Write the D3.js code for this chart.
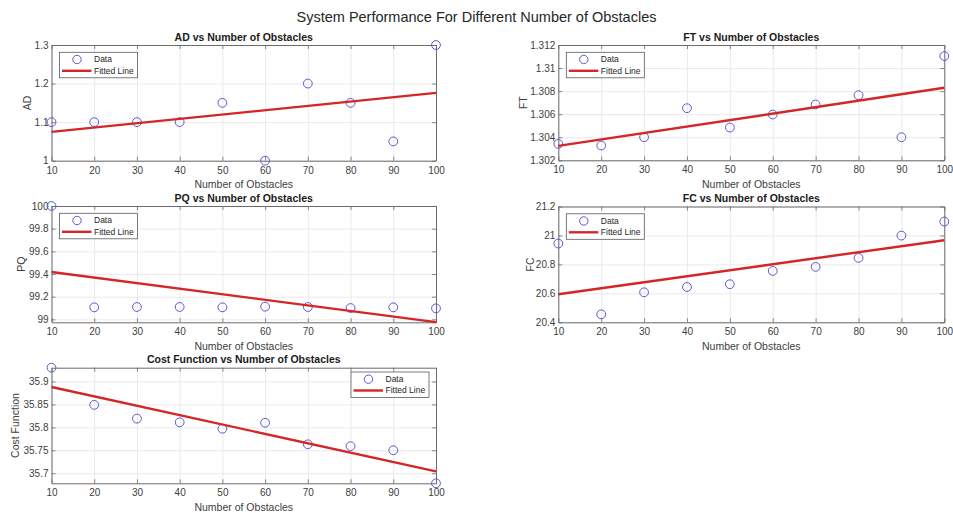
<!DOCTYPE html>
<html>
<head>
<meta charset="utf-8">
<script src="https://cdn.jsdelivr.net/npm/d3@7"></script>
<style>
  html, body { margin: 0; padding: 0; background: #fff; }
  svg { display: block; font-family: "Liberation Sans", Arial, Helvetica, sans-serif; }
</style>
</head>
<body>
<svg id="chart" width="953" height="513"></svg>
<script>
// ---------------- data ----------------
const obstacles = [10, 20, 30, 40, 50, 60, 70, 80, 90, 100];
const xTicks = [10, 20, 30, 40, 50, 60, 70, 80, 90, 100];
const fitX = [10, 100];

const adValues = [1.10, 1.10, 1.10, 1.10, 1.15, 1.00, 1.20, 1.15, 1.05, 1.30];
const adFit = [1.0746, 1.1760];
const adTicks = [1.0, 1.1, 1.2, 1.3];
const adTickLabels = ["1", "1.1", "1.2", "1.3"];
const adDomain = [1.0, 1.3];

const ftValues = [1.30342, 1.30328, 1.30400, 1.30652, 1.30484, 1.30597, 1.30684, 1.30765, 1.30400, 1.31104];
const ftFit = [1.30325, 1.30829];
const ftTicks = [1.302, 1.304, 1.306, 1.308, 1.310, 1.312];
const ftTickLabels = ["1.302", "1.304", "1.306", "1.308", "1.31", "1.312"];
const ftDomain = [1.302, 1.312];

const pqValues = [100.0, 99.106, 99.109, 99.109, 99.106, 99.112, 99.109, 99.100, 99.106, 99.097];
const pqFit = [99.418, 98.976];
const pqTicks = [99.0, 99.2, 99.4, 99.6, 99.8, 100.0];
const pqTickLabels = ["99", "99.2", "99.4", "99.6", "99.8", "100"];
const pqDomain = [98.974, 100.0];

const fcValues = [20.944, 20.455, 20.607, 20.644, 20.663, 20.755, 20.783, 20.845, 20.999, 21.096];
const fcFit = [20.594, 20.967];
const fcTicks = [20.4, 20.6, 20.8, 21.0, 21.2];
const fcTickLabels = ["20.4", "20.6", "20.8", "21", "21.2"];
const fcDomain = [20.4, 21.2];

const costValues = [35.930, 35.849, 35.819, 35.811, 35.797, 35.810, 35.763, 35.759, 35.750, 35.678];
const costFit = [35.888, 35.704];
const costTicks = [35.70, 35.75, 35.80, 35.85, 35.90];
const costTickLabels = ["35.7", "35.75", "35.8", "35.85", "35.9"];
const costDomain = [35.678, 35.930];

const mainTitle = "System Performance For Different Number of Obstacles";
const xLabel = "Number of Obstacles";
const legendLabels = ["Data", "Fitted Line"];

// ---------------- layout / style ----------------
const FRAME = "#6b6b6b";
const TEXT = "#404040";
const GRID = "#e4e4e4";
const MARK = "#5a5ad0";
const RED = "#d42626";

const panels = [
  { title: "AD vs Number of Obstacles", ylab: "AD", vals: adValues, fit: adFit, ticks: adTicks, labels: adTickLabels, domain: adDomain,
    box: { x0: 51.5, x1: 436, y0: 45, y1: 160.7 }, ylabX: 27, legend: "left" },
  { title: "FT vs Number of Obstacles", ylab: "FT", vals: ftValues, fit: ftFit, ticks: ftTicks, labels: ftTickLabels, domain: ftDomain,
    box: { x0: 558.3, x1: 944.3, y0: 45, y1: 160.3 }, ylabX: 523, legend: "left" },
  { title: "PQ vs Number of Obstacles", ylab: "PQ", vals: pqValues, fit: pqFit, ticks: pqTicks, labels: pqTickLabels, domain: pqDomain,
    box: { x0: 51.5, x1: 436, y0: 206, y1: 322.3 }, ylabX: 21.5, legend: "left" },
  { title: "FC vs Number of Obstacles", ylab: "FC", vals: fcValues, fit: fcFit, ticks: fcTicks, labels: fcTickLabels, domain: fcDomain,
    box: { x0: 558.3, x1: 944.3, y0: 206.5, y1: 322.3 }, ylabX: 530, legend: "left" },
  { title: "Cost Function vs Number of Obstacles", ylab: "Cost Function", vals: costValues, fit: costFit, ticks: costTicks, labels: costTickLabels, domain: costDomain,
    box: { x0: 51.5, x1: 436, y0: 367.7, y1: 483.3 }, ylabX: 15, legend: "right" }
];

const svg = d3.select("#chart");

svg.append("text")
  .attr("x", 476.5).attr("y", 22)
  .attr("text-anchor", "middle")
  .attr("font-size", 14.5)
  .attr("fill", "#262626")
  .text(mainTitle);

panels.forEach(p => {
  const b = p.box;
  const w = b.x1 - b.x0, h = b.y1 - b.y0;
  const x = d3.scaleLinear().domain([10, 100]).range([0, w]);
  const y = d3.scaleLinear().domain(p.domain).range([h, 0]);
  const g = svg.append("g").attr("transform", `translate(${b.x0},${b.y0})`);

  // grid
  const gx = g.append("g").attr("transform", `translate(0,${h})`)
    .call(d3.axisBottom(x).tickValues(xTicks).tickSize(-h).tickFormat(""));
  const gy = g.append("g")
    .call(d3.axisLeft(y).tickValues(p.ticks).tickSize(-w).tickFormat(""));
  [gx, gy].forEach(a => {
    a.select(".domain").remove();
    a.selectAll("line").attr("stroke", GRID).attr("stroke-width", 0.8);
  });

  // axes with inward ticks
  const ax = g.append("g").attr("transform", `translate(0,${h})`)
    .call(d3.axisBottom(x).tickValues(xTicks).tickSize(-4).tickSizeOuter(0).tickPadding(6));
  const ay = g.append("g")
    .call(d3.axisLeft(y).tickValues(p.ticks).tickSize(-4).tickSizeOuter(0).tickPadding(3)
      .tickFormat((d, i) => p.labels[i]));
  const at = g.append("g")
    .call(d3.axisTop(x).tickValues(xTicks).tickSize(-4).tickSizeOuter(0).tickFormat(""));
  const ar = g.append("g").attr("transform", `translate(${w},0)`)
    .call(d3.axisRight(y).tickValues(p.ticks).tickSize(-4).tickSizeOuter(0).tickFormat(""));
  [ax, ay, at, ar].forEach(a => {
    a.select(".domain").attr("stroke", FRAME).attr("stroke-width", 1);
    a.selectAll(".tick line").attr("stroke", FRAME).attr("stroke-width", 0.8);
    a.selectAll("text").attr("fill", TEXT).attr("font-size", 10)
      .attr("font-family", "'Liberation Sans', Arial, sans-serif");
  });

  // title & labels
  g.append("text").attr("x", w / 2).attr("y", -4.5).attr("text-anchor", "middle")
    .attr("font-size", 10.5).attr("font-weight", "bold").attr("fill", "#1a1a1a").text(p.title);
  g.append("text").attr("x", w / 2).attr("y", h + 27.5).attr("text-anchor", "middle")
    .attr("font-size", 10.5).attr("fill", TEXT).text(xLabel);
  svg.append("text")
    .attr("transform", `translate(${p.ylabX},${b.y0 + h / 2}) rotate(-90)`)
    .attr("text-anchor", "middle").attr("dy", "0.35em")
    .attr("font-size", 10.5).attr("fill", TEXT).text(p.ylab);

  // data markers
  g.selectAll("circle.pt").data(obstacles).join("circle")
    .attr("class", "pt")
    .attr("cx", d => x(d)).attr("cy", (d, i) => y(p.vals[i]))
    .attr("r", 4.4).attr("fill", "none").attr("stroke", MARK).attr("stroke-width", 1);

  // fitted line
  g.append("path")
    .datum(fitX.map((d, i) => [d, p.fit[i]]))
    .attr("d", d3.line().x(d => x(d[0])).y(d => y(d[1])))
    .attr("fill", "none").attr("stroke", RED).attr("stroke-width", 2.4);

  // legend
  const lw = 78, lh = 25.5;
  const lx = p.legend === "left" ? 8 : w - lw - 7;
  const ly = p.legend === "left" ? 7.3 : 4.3;
  const lg = g.append("g").attr("transform", `translate(${lx},${ly})`);
  lg.append("rect").attr("width", lw).attr("height", lh)
    .attr("fill", "#fff").attr("stroke", "#5a5a5a").attr("stroke-width", 0.8);
  lg.append("circle").attr("cx", 17.5).attr("cy", 7.2).attr("r", 4.2)
    .attr("fill", "none").attr("stroke", MARK).attr("stroke-width", 1);
  lg.append("line").attr("x1", 2.5).attr("x2", 32).attr("y1", 18.5).attr("y2", 18.5)
    .attr("stroke", RED).attr("stroke-width", 2.4);
  lg.selectAll("text.lt").data(legendLabels).join("text")
    .attr("class", "lt")
    .attr("x", 34.5).attr("y", (d, i) => i === 0 ? 7.2 : 18.5).attr("dy", "0.35em")
    .attr("font-size", 8.5).attr("fill", "#262626").text(d => d);
});
</script>
</body>
</html>
